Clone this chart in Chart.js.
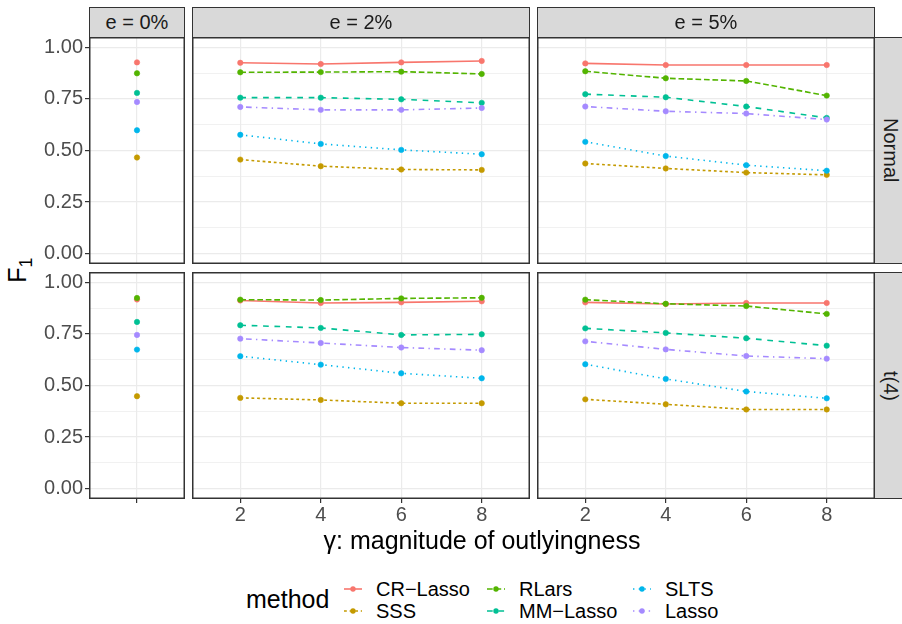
<!DOCTYPE html>
<html>
<head>
<meta charset="utf-8">
<script src="https://cdn.jsdelivr.net/npm/chart.js@4.4.0/dist/chart.umd.min.js"></script>
<style>
  body { margin: 0; width: 902px; height: 624px; position: relative; overflow: hidden; background: #fff;
         font-family: "Liberation Sans", Arial, sans-serif; }
  canvas { position: absolute; }
  .strip { position: absolute; box-sizing: border-box; background: #D9D9D9; border: 1.5px solid #333;
           color: #1A1A1A; font-size: 20px; display: flex; align-items: center; justify-content: center; }
  .strip.side { writing-mode: vertical-rl; }
  .title { position: absolute; color: #000; font-size: 25px; white-space: nowrap; }
  .leg-label { position: absolute; font-size: 20px; color: #000; white-space: nowrap; line-height: 22px; }
</style>
</head>
<body>
<script>
/* F1 by method, contamination e and outlyingness gamma */

const methods = ['CR−Lasso', 'SSS', 'RLars', 'MM−Lasso', 'SLTS', 'Lasso'];
const colors = ['#F8766D', '#C49A00', '#53B400', '#00C094', '#00B6EB', '#A58AFF'];
const dashes = [[], [2.8, 2.8], [5.7, 2.8], [5.7, 5.7], [1.4, 4.3], [1.4, 4.3, 5.7, 4.3]];

const gammaLevels = [2, 4, 6, 8];
const yTicks = [0, 0.25, 0.5, 0.75, 1];
const yMinor = [0.125, 0.375, 0.625, 0.875];

// e = 0% (one value per method)
const normalE0 = [0.927, 0.466, 0.874, 0.779, 0.598, 0.735];
const t4E0 = [0.917, 0.448, 0.924, 0.808, 0.674, 0.745];

// e = 2% / 5%, rows follow methods, columns follow gammaLevels
const normalE2 = [
  [0.925, 0.919, 0.927, 0.934],
  [0.456, 0.424, 0.408, 0.406],
  [0.879, 0.880, 0.882, 0.871],
  [0.756, 0.756, 0.748, 0.731],
  [0.576, 0.532, 0.503, 0.482],
  [0.711, 0.697, 0.697, 0.706]
];
const normalE5 = [
  [0.922, 0.914, 0.914, 0.914],
  [0.437, 0.413, 0.393, 0.382],
  [0.884, 0.850, 0.837, 0.766],
  [0.773, 0.758, 0.713, 0.658],
  [0.542, 0.473, 0.429, 0.402],
  [0.713, 0.690, 0.679, 0.650]
];
const t4E2 = [
  [0.912, 0.900, 0.903, 0.908],
  [0.440, 0.430, 0.414, 0.414],
  [0.916, 0.914, 0.922, 0.925],
  [0.792, 0.779, 0.745, 0.748],
  [0.642, 0.601, 0.559, 0.535],
  [0.727, 0.706, 0.684, 0.671]
];
const t4E5 = [
  [0.903, 0.895, 0.900, 0.900],
  [0.433, 0.409, 0.384, 0.384],
  [0.916, 0.896, 0.885, 0.847],
  [0.777, 0.755, 0.729, 0.693],
  [0.603, 0.532, 0.471, 0.438],
  [0.714, 0.675, 0.643, 0.630]
];

const colStrips = ['e = 0%', 'e = 2%', 'e = 5%'];
const rowStrips = ['Normal', 't(4)'];

// panel geometry
const cols = [{ x: 89, w: 96 }, { x: 192, w: 338 }, { x: 537, w: 338 }];
const rows = [{ y: 37, h: 227 }, { y: 272, h: 227 }];
const Y_AXIS_W = 50, X_AXIS_H = 28;

const panelFrame = {
  id: 'panelFrame',
  afterDraw(chart) {
    const a = chart.chartArea, c = chart.ctx;
    c.save();
    c.strokeStyle = '#333333';
    c.lineWidth = 1.5;
    c.strokeRect(a.left + 0.75, a.top + 0.75, a.right - a.left - 1.5, a.bottom - a.top - 1.5);
    c.restore();
  }
};

function isMajor(v) { return yTicks.some(t => Math.abs(t - v) < 1e-9); }

function noPadding(s) { s.paddingTop = s.paddingBottom = s.paddingLeft = s.paddingRight = 0; }

function makeDatasets(values, xs) {
  return methods.map((m, i) => ({
    label: m,
    data: (Array.isArray(values[i]) ? values[i] : [values[i]]).map((v, j) => ({ x: xs[j], y: v })),
    borderColor: colors[i],
    backgroundColor: colors[i],
    pointBackgroundColor: colors[i],
    pointBorderColor: colors[i],
    borderDash: dashes[i],
    order: methods.length - i
  }));
}

function makePanel(r, c, values, showY, showX) {
  const single = c === 0;
  const xs = single ? [0] : gammaLevels;
  const cv = document.createElement('canvas');
  const left = cols[c].x - (showY ? Y_AXIS_W : 0);
  const width = cols[c].w + (showY ? Y_AXIS_W : 0);
  const height = rows[r].h + (showX ? X_AXIS_H : 0);
  cv.width = width; cv.height = height;
  cv.style.left = left + 'px'; cv.style.top = rows[r].y + 'px';
  cv.style.width = width + 'px'; cv.style.height = height + 'px';
  document.body.appendChild(cv);

  new Chart(cv.getContext('2d'), {
    type: 'line',
    data: { datasets: makeDatasets(values, xs) },
    options: {
      responsive: false,
      animation: false,
      layout: { padding: 0, autoPadding: false },
      elements: {
        line: { borderWidth: 1.6, tension: 0 },
        point: { radius: 2.7, borderWidth: 0.6, hoverRadius: 2.7 }
      },
      plugins: { legend: { display: false }, tooltip: { enabled: false } },
      scales: {
        x: {
          type: 'linear',
          min: single ? -0.6 : 0.8,
          max: single ? 0.6 : 9.2,
          afterBuildTicks: s => { s.ticks = xs.map(v => ({ value: v })); },
          afterFit: s => { s.height = showX ? X_AXIS_H : 0; noPadding(s); },
          ticks: {
            display: showX,
            autoSkip: false, maxRotation: 0, padding: 0,
            color: '#4D4D4D',
            font: { family: '"Liberation Sans", Arial, sans-serif', size: 20 },
            callback: v => single ? '' : String(v)
          },
          grid: { color: '#EBEBEB', lineWidth: 1.2, drawTicks: showX, tickLength: 4, tickColor: '#333333', tickWidth: 1.2 },
          border: { display: false }
        },
        y: {
          min: -0.05,
          max: 1.05,
          afterBuildTicks: s => { s.ticks = yTicks.concat(yMinor).sort((a, b) => a - b).map(v => ({ value: v })); },
          afterFit: s => { s.width = showY ? Y_AXIS_W : 0; noPadding(s); },
          ticks: {
            display: showY,
            padding: 2,
            color: '#4D4D4D',
            font: { family: '"Liberation Sans", Arial, sans-serif', size: 20 },
            callback: v => isMajor(v) ? v.toFixed(2) : ''
          },
          grid: {
            color: '#EBEBEB',
            lineWidth: ctx => (ctx.tick && isMajor(ctx.tick.value)) ? 1.2 : 0.7,
            drawTicks: showY, tickLength: 4, tickWidth: 1.2,
            tickColor: ctx => (ctx.tick && isMajor(ctx.tick.value)) ? '#333333' : 'rgba(0,0,0,0)'
          },
          border: { display: false }
        }
      }
    },
    plugins: [panelFrame]
  });
}

makePanel(0, 0, normalE0, true, false);
makePanel(0, 1, normalE2, false, false);
makePanel(0, 2, normalE5, false, false);
makePanel(1, 0, t4E0, true, true);
makePanel(1, 1, t4E2, false, true);
makePanel(1, 2, t4E5, false, true);

// facet strips
colStrips.forEach((t, c) => {
  const d = document.createElement('div');
  d.className = 'strip';
  d.style.left = cols[c].x + 'px'; d.style.top = '7px';
  d.style.width = cols[c].w + 'px'; d.style.height = '31px';
  d.textContent = t;
  document.body.appendChild(d);
});
rowStrips.forEach((t, r) => {
  const d = document.createElement('div');
  d.className = 'strip side';
  d.style.left = '874px'; d.style.top = rows[r].y + 'px';
  d.style.width = '32px'; d.style.height = rows[r].h + 'px';
  d.textContent = t;
  document.body.appendChild(d);
});

// axis titles
const yTitle = document.createElement('div');
yTitle.className = 'title';
yTitle.innerHTML = 'F<sub style="font-size:18px">1</sub>';
yTitle.style.left = '0px'; yTitle.style.top = '253px';
yTitle.style.width = '40px'; yTitle.style.textAlign = 'center';
yTitle.style.transform = 'rotate(-90deg)';
document.body.appendChild(yTitle);

const xTitle = document.createElement('div');
xTitle.className = 'title';
xTitle.textContent = 'γ: magnitude of outlyingness';
xTitle.style.left = '282px'; xTitle.style.width = '400px'; xTitle.style.textAlign = 'center';
xTitle.style.top = '526px';
document.body.appendChild(xTitle);

// legend
const legTitle = document.createElement('div');
legTitle.className = 'title';
legTitle.textContent = 'method';
legTitle.style.left = '246px'; legTitle.style.top = '585px';
document.body.appendChild(legTitle);

const keyCols = [343, 486, 632];
methods.forEach((m, i) => {
  const kx = keyCols[Math.floor(i / 2)];
  const ky = 578 + (i % 2) * 22;
  const k = document.createElement('canvas');
  k.width = 20; k.height = 22;
  k.style.left = kx + 'px'; k.style.top = ky + 'px';
  document.body.appendChild(k);
  const g = k.getContext('2d');
  g.strokeStyle = colors[i];
  g.lineWidth = 1.6;
  g.setLineDash(dashes[i]);
  g.beginPath(); g.moveTo(1, 11); g.lineTo(19, 11); g.stroke();
  g.fillStyle = colors[i];
  g.beginPath(); g.arc(10, 11, 2.7, 0, Math.PI * 2); g.fill();

  const l = document.createElement('div');
  l.className = 'leg-label';
  l.textContent = m;
  l.style.left = (kx + 33) + 'px'; l.style.top = ky + 'px';
  document.body.appendChild(l);
});
</script>
</body>
</html>
